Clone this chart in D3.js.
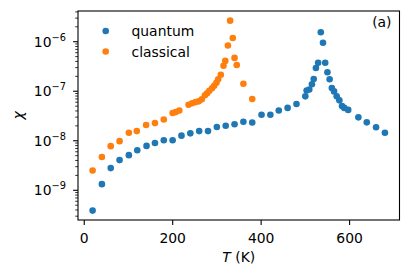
<!DOCTYPE html>
<html><head><meta charset="utf-8">
<script src="https://cdn.jsdelivr.net/npm/d3@7"></script>
<style>
html,body{margin:0;padding:0;background:#fff;}
svg{display:block;font-family:"DejaVu Sans",sans-serif;}
</style></head>
<body>
<svg id="chart" width="411" height="278"></svg>
<script>
const quantumT = [20,41,61,81,102,121,142,161,181,201,221,241,261,281,301,321,341,361,381,402,422,441,461,481,501,504,510,516,520,525,530,536,541,546,551,556,561,566,572,578,584,589,598,621,640,661,681];
const quantumChi = [3.8e-10,1.3e-9,2.74e-9,3.98e-9,5.0e-9,6.3e-9,7.7e-9,8.8e-9,1.0e-8,1.0e-8,1.24e-8,1.38e-8,1.53e-8,1.53e-8,1.85e-8,1.96e-8,2.1e-8,2.37e-8,2.29e-8,3.27e-8,3.27e-8,3.98e-8,4.5e-8,5.4e-8,7.7e-8,1.01e-7,1.06e-7,1.35e-7,1.72e-7,2.88e-7,3.68e-7,1.52e-6,9.3e-7,3.68e-7,2.37e-7,1.7e-7,1.13e-7,9.7e-8,7.7e-8,6.4e-8,4.9e-8,4.5e-8,4.1e-8,2.9e-8,2.3e-8,1.83e-8,1.42e-8];
const classicalT = [20,41,61,81,102,120,141,161,181,201,208,216,237,245,253,260,267,274,279,284,290,295,300,304,310,316,320,326,331,337,341,346,361,381];
const classicalChi = [2.45e-9,4.6e-9,7.6e-9,9.6e-9,1.42e-8,1.53e-8,2.04e-8,2.22e-8,2.63e-8,3.55e-8,3.7e-8,4.0e-8,5.2e-8,5.6e-8,5.9e-8,6.1e-8,6.7e-8,8.1e-8,8.9e-8,1.0e-7,1.12e-7,1.26e-7,1.45e-7,1.7e-7,2.1e-7,3.2e-7,4.0e-7,8.2e-7,2.6e-6,1.16e-6,4.6e-7,3.3e-7,1.38e-7,6.8e-8];
const xTicks = [0,200,400,600];
const yExponents = [-9,-8,-7,-6];
const seriesNames = ["quantum","classical"];
const seriesColors = ["#1f77b4","#ff7f0e"];

const svg = d3.select("#chart");
const L = 78, R = 399.5, T = 11, B = 220;
const x = d3.scaleLinear().domain([-13, 714]).range([L, R]);
const y = d3.scaleLog().domain([Math.pow(10,-9.61), Math.pow(10,-5.39)]).range([B, T]);
const fs = 13.9;

// minor ticks on y
const minor = [];
for (let e = -10; e <= -5; e++) for (let k = 2; k <= 9; k++) {
  const v = k * Math.pow(10, e);
  if (v >= y.domain()[0] && v <= y.domain()[1]) minor.push(v);
}
const yMinor = svg.append("g").attr("transform", `translate(${L},0)`)
  .call(d3.axisLeft(y).tickValues(minor).tickSize(2.8).tickFormat(""));
yMinor.select(".domain").remove();
yMinor.selectAll("line").attr("stroke", "#000").attr("stroke-width", 0.8);

const yMajor = svg.append("g").attr("transform", `translate(${L},0)`)
  .call(d3.axisLeft(y).tickValues(yExponents.map(e => Math.pow(10, e))).tickSize(4.9).tickFormat(""));
yMajor.select(".domain").remove();
yMajor.selectAll("line").attr("stroke", "#000").attr("stroke-width", 1.1);
yMajor.selectAll(".tick").each(function(d, i) {
  const t = d3.select(this).append("text")
    .attr("x", -12).attr("y", 5.2).attr("text-anchor", "end")
    .attr("fill", "#000").attr("font-size", fs).attr("font-family", "DejaVu Sans");
  t.append("tspan").text("10");
  t.append("tspan").attr("font-size", 9.8).attr("dy", -6).text("\u2212" + Math.abs(yExponents[i]));
});

const xAxis = svg.append("g").attr("transform", `translate(0,${B})`)
  .call(d3.axisBottom(x).tickValues(xTicks).tickSize(4.9).tickPadding(0).tickFormat(d3.format("d")));
xAxis.select(".domain").remove();
xAxis.selectAll("line").attr("stroke", "#000").attr("stroke-width", 1.1);
xAxis.selectAll("text").attr("y", 22.5).attr("dy", null).attr("fill", "#000")
  .attr("font-size", fs).attr("font-family", "DejaVu Sans");

// frame
svg.append("rect").attr("x", L).attr("y", T).attr("width", R - L).attr("height", B - T)
  .attr("fill", "none").attr("stroke", "#000").attr("stroke-width", 1.1);

// data
const series = [
  {T: quantumT, chi: quantumChi},
  {T: classicalT, chi: classicalChi}
];
series.forEach((s, si) => {
  svg.append("g").selectAll("circle")
    .data(s.T.map((t, i) => [t, s.chi[i]]))
    .join("circle")
    .attr("cx", d => x(d[0])).attr("cy", d => y(d[1]))
    .attr("r", 3.3).attr("fill", seriesColors[si]);
});

// legend
seriesNames.forEach((n, i) => {
  const yy = 31 + i * 20.5;
  svg.append("circle").attr("cx", 105.7).attr("cy", yy).attr("r", 3.3).attr("fill", seriesColors[i]);
  svg.append("text").attr("x", 131.5).attr("y", yy + 5).attr("font-size", fs).attr("fill", "#000").text(n);
});

// panel label
svg.append("text").attr("x", 391.5).attr("y", 27).attr("text-anchor", "end")
  .attr("font-size", fs).attr("fill", "#000").text("(a)");

// axis labels
const xl = svg.append("text").attr("x", (L + R) / 2).attr("y", 261.5).attr("text-anchor", "middle")
  .attr("font-size", fs).attr("fill", "#000");
xl.append("tspan").attr("font-style", "italic").text("T");
xl.append("tspan").text(" (K)");

svg.append("text").attr("transform", `translate(22.6,${(T + B) / 2}) rotate(-90)`)
  .attr("text-anchor", "middle").attr("font-size", fs).attr("font-style", "italic").attr("fill", "#000").text("χ");
</script>
</body></html>
